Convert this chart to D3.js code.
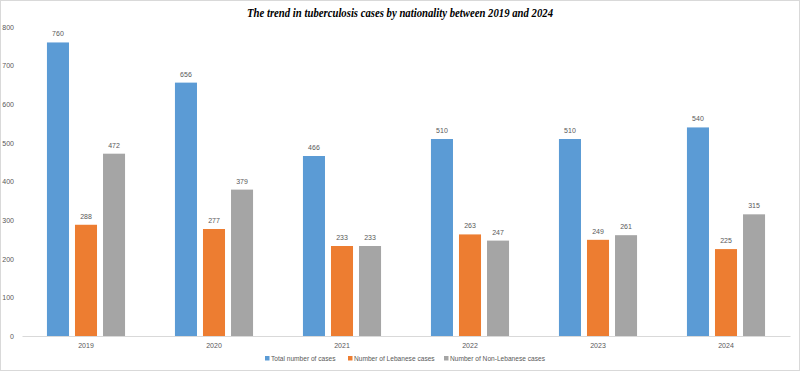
<!DOCTYPE html>
<html>
<head>
<meta charset="utf-8">
<script src="https://cdn.jsdelivr.net/npm/d3@7"></script>
<style>
  body { margin: 0; background: #fff; }
  text { font-family: "Liberation Sans", Arial, sans-serif; fill: #595959; }
  .title { font-family: "Liberation Serif", "Times New Roman", serif; font-style: italic; font-weight: bold; fill: #000; }
</style>
</head>
<body>
<svg id="chart" width="800" height="373"></svg>
<script>
const years = ['2019', '2020', '2021', '2022', '2023', '2024'];
const totalCases = [760, 656, 466, 510, 510, 540];
const lebaneseCases = [288, 277, 233, 263, 249, 225];
const nonLebaneseCases = [472, 379, 233, 247, 261, 315];
const seriesNames = ['Total number of cases', 'Number of Lebanese cases', 'Number of Non-Lebanese cases'];
const seriesColors = ['#5B9BD5', '#ED7D31', '#A5A5A5'];
const yTicks = [0, 100, 200, 300, 400, 500, 600, 700, 800];

const seriesValues = [totalCases, lebaneseCases, nonLebaneseCases];
const data = years.map((y, i) => ({
    year: y,
    values: seriesValues.map((s, k) => ({key: k, value: s[i]}))
}));

const svg = d3.select('#chart');
const margin = {left: 22, right: 10, top: 27, bottom: 37};
const w = 800, h = 373;

// frame
svg.append('rect')
    .attr('x', 0.5).attr('y', 0.5)
    .attr('width', w - 1).attr('height', h - 3)
    .attr('fill', 'none').attr('stroke', '#d9d9d9');

svg.append('text').attr('class', 'title')
    .attr('x', 400).attr('y', 17)
    .attr('text-anchor', 'middle')
    .attr('textLength', 306)
    .attr('lengthAdjust', 'spacingAndGlyphs')
    .style('font-size', '13px')
    .text('The trend in tuberculosis cases by nationality between 2019 and 2024');

const x0 = d3.scaleBand()
    .domain(years)
    .range([margin.left, w - margin.right])
    .paddingInner(0).paddingOuter(0);
const x1 = d3.scaleBand()
    .domain([0, 1, 2])
    .range([0, x0.bandwidth()])
    .paddingInner(0.214)
    .paddingOuter(0.89);
const y = d3.scaleLinear()
    .domain([0, 800])
    .range([h - margin.bottom, margin.top]);

const yAxis = d3.axisLeft(y).tickValues(yTicks).tickSize(0).tickPadding(6);
const gy = svg.append('g')
    .attr('transform', `translate(${margin.left - 2},0)`)
    .call(yAxis);
gy.select('.domain').remove();
gy.selectAll('text').style('font-size', '7px').attr('fill', '#595959');

const groups = svg.append('g').selectAll('g')
    .data(data)
    .enter()
    .append('g')
    .attr('transform', d => `translate(${x0(d.year)},0)`);

groups.selectAll('rect')
    .data(d => d.values)
    .enter()
    .append('rect')
    .attr('x', d => x1(d.key))
    .attr('y', d => y(d.value))
    .attr('width', x1.bandwidth())
    .attr('height', d => y(0) - y(d.value))
    .attr('fill', d => seriesColors[d.key]);

groups.selectAll('text')
    .data(d => d.values)
    .enter()
    .append('text')
    .attr('x', d => x1(d.key) + x1.bandwidth() / 2)
    .attr('y', d => y(d.value) - 6)
    .attr('text-anchor', 'middle')
    .style('font-size', '7px')
    .attr('fill', '#404040')
    .text(d => d.value);

const xAxis = d3.axisBottom(x0).tickSize(0).tickPadding(7);
const gx = svg.append('g')
    .attr('transform', `translate(0,${y(0)})`)
    .call(xAxis);
gx.select('.domain').attr('stroke', '#d9d9d9');
gx.selectAll('text').style('font-size', '7px').attr('fill', '#595959');

// legend
const legendX = [265, 348, 444];
const legend = svg.append('g').selectAll('g')
    .data(seriesNames)
    .enter()
    .append('g')
    .attr('transform', (d, i) => `translate(${legendX[i]},361)`);
legend.append('rect')
    .attr('x', 0).attr('y', -5)
    .attr('width', 4.5).attr('height', 4.5)
    .attr('fill', (d, i) => seriesColors[i]);
legend.append('text')
    .attr('x', 6).attr('y', 0)
    .style('font-size', '6.6px')
    .attr('fill', '#595959')
    .text(d => d);
</script>
</body>
</html>
